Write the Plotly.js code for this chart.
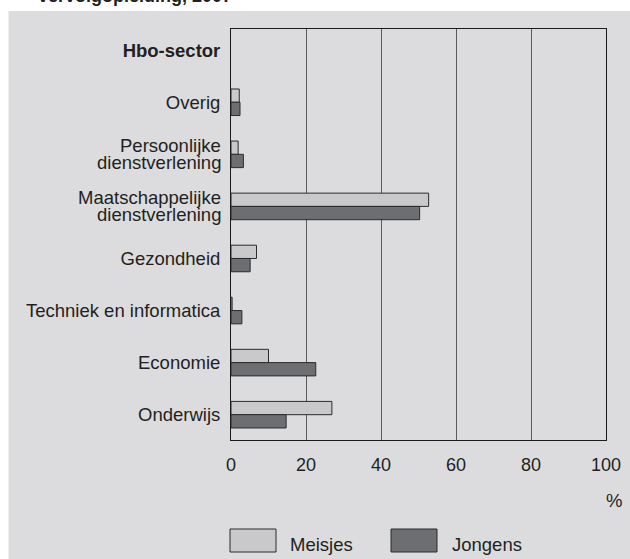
<!DOCTYPE html>
<html>
<head>
<meta charset="utf-8">
<script src="https://cdn.plot.ly/plotly-3.0.1.min.js"></script>
<style>html,body{margin:0;padding:0;background:#fff;}#chart{width:630px;height:559px;}</style>
</head>
<body>
<div id="chart"></div>
<script>
const categories = ["Hbo-sector", "Overig", "Persoonlijke dienstverlening", "Maatschappelijke dienstverlening", "Gezondheid", "Techniek en informatica", "Economie", "Onderwijs"];
const tickLabels = ["<b>Hbo-sector</b>", "Overig", "", "", "Gezondheid", "Techniek en informatica", "Economie", "Onderwijs"];
const twoLineLabels = [
  {cat: "Persoonlijke dienstverlening", lines: ["Persoonlijke", "dienstverlening"]},
  {cat: "Maatschappelijke dienstverlening", lines: ["Maatschappelijke", "dienstverlening"]}
];
const meisjes = [null, 2.2, 1.9, 52.7, 6.8, 0.3, 10.0, 26.9];
const jongens = [null, 2.4, 3.3, 50.3, 5.1, 2.9, 22.6, 14.7];
const xTicks = [0, 20, 40, 60, 80, 100];
const seriesNames = ["Meisjes", "Jongens"];

const FONT = "Liberation Sans, Arial, sans-serif";
const TXT = "#231f20";
const LIGHT = "#c9c9cb";
const DARK = "#6d6e71";
const EDGE = "#2b2b2b";
const FS = 18.5;

const traces = [
  {type: "bar", orientation: "h", name: seriesNames[0], y: categories, x: meisjes,
   marker: {color: LIGHT, line: {color: EDGE, width: 1}}, showlegend: false, hoverinfo: "none"},
  {type: "bar", orientation: "h", name: seriesNames[1], y: categories, x: jongens,
   marker: {color: DARK, line: {color: EDGE, width: 1}}, showlegend: false, hoverinfo: "none"}
];

const TOP = 29, BOT = 440, LEFT = 231, RIGHT = 606;
const H = BOT - TOP, W = RIGHT - LEFT;
function py(pix) { return 1 - (pix - TOP) / H; }
function px(pix) { return (pix - LEFT) / W; }

const annotations = [
  {xref: "paper", yref: "paper", x: px(288), y: py(544), xanchor: "left", yanchor: "middle",
   text: seriesNames[0], showarrow: false, font: {family: FONT, size: FS, color: TXT}},
  {xref: "paper", yref: "paper", x: px(450), y: py(544), xanchor: "left", yanchor: "middle",
   text: seriesNames[1], showarrow: false, font: {family: FONT, size: FS, color: TXT}},
  {xref: "paper", yref: "paper", x: px(624), y: py(500), xanchor: "right", yanchor: "middle",
   text: "%", showarrow: false, font: {family: FONT, size: FS, color: TXT}},
  {xref: "paper", yref: "paper", x: px(36), y: py(8), xanchor: "left", yanchor: "bottom",
   text: "<b>vervolgopleiding, 2007</b>", showarrow: false, font: {family: FONT, size: 18, color: TXT}}
];
twoLineLabels.forEach(function (d) {
  annotations.push({xref: "paper", yref: "y", x: px(223), y: d.cat, xanchor: "right", yanchor: "middle",
    yshift: 9, text: d.lines[0], showarrow: false, font: {family: FONT, size: FS, color: TXT}});
  annotations.push({xref: "paper", yref: "y", x: px(223), y: d.cat, xanchor: "right", yanchor: "middle",
    yshift: -8.5, text: d.lines[1], showarrow: false, font: {family: FONT, size: FS, color: TXT}});
});

const layout = {
  width: 630, height: 559,
  margin: {l: LEFT, r: 630 - RIGHT, t: TOP, b: 559 - BOT, pad: 0},
  paper_bgcolor: "#ffffff",
  plot_bgcolor: "#ffffff",
  barmode: "group",
  bargap: 0.49,
  bargroupgap: 0,
  font: {family: FONT, size: FS, color: TXT},
  xaxis: {
    range: [0, 100], tickvals: xTicks, ticktext: xTicks.map(String),
    showgrid: true, gridcolor: "#5a5a5a", gridwidth: 1,
    showline: true, linecolor: "#1a1a1a", linewidth: 1, mirror: true,
    ticks: "outside", ticklen: 8, tickcolor: "rgba(0,0,0,0)",
    zeroline: false, tickfont: {family: FONT, size: 18, color: TXT},
    fixedrange: true
  },
  yaxis: {
    type: "category", categoryorder: "array", categoryarray: categories,
    tickvals: categories, ticktext: tickLabels,
    range: [7.486, -0.407],
    showline: true, linecolor: "#1a1a1a", linewidth: 1, mirror: true,
    ticks: "outside", ticklen: 6, tickcolor: "rgba(0,0,0,0)",
    showgrid: false, zeroline: false,
    tickfont: {family: FONT, size: FS, color: TXT},
    fixedrange: true
  },
  shapes: [
    {type: "rect", xref: "paper", yref: "paper", layer: "below",
     x0: px(8.5), x1: px(630), y0: py(559), y1: py(11),
     fillcolor: "#dcdcde", line: {width: 0}},
    {type: "rect", xref: "paper", yref: "paper",
     x0: px(230), x1: px(276), y0: py(552), y1: py(529),
     fillcolor: LIGHT, line: {color: EDGE, width: 1}},
    {type: "rect", xref: "paper", yref: "paper",
     x0: px(391), x1: px(437), y0: py(552), y1: py(529),
     fillcolor: DARK, line: {color: EDGE, width: 1}}
  ],
  annotations: annotations
};

Plotly.newPlot("chart", traces, layout, {displayModeBar: false, staticPlot: true});
</script>
</body>
</html>
